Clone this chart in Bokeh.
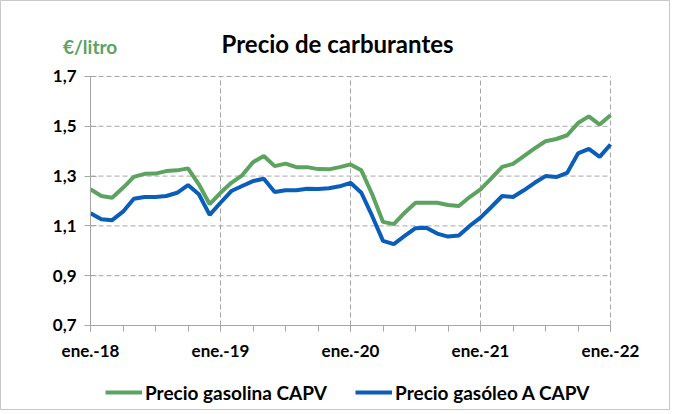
from bokeh.plotting import figure
from bokeh.models import (ColumnDataSource, FixedTicker, CustomJSTickFormatter, Legend,
                          LegendItem, Label)
from bokeh.embed import file_html
from bokeh.resources import INLINE

months = list(range(49))
year_ticks = [0, 12, 24, 36, 48]
year_labels = ["ene.-18", "ene.-19", "ene.-20", "ene.-21", "ene.-22"]
y_ticks = [0.7, 0.9, 1.1, 1.3, 1.5, 1.7]

gasolina = [1.247, 1.220, 1.213, 1.253, 1.297, 1.309, 1.310, 1.320, 1.323, 1.331,
            1.267, 1.187, 1.233, 1.273, 1.303, 1.356, 1.381, 1.340, 1.350, 1.336,
            1.336, 1.328, 1.327, 1.336, 1.347, 1.323, 1.227, 1.116, 1.107, 1.153,
            1.193, 1.193, 1.193, 1.184, 1.180, 1.216, 1.247, 1.291, 1.337, 1.349,
            1.380, 1.411, 1.440, 1.449, 1.464, 1.513, 1.540, 1.507, 1.544]
gasoleo = [1.151, 1.127, 1.123, 1.157, 1.209, 1.216, 1.216, 1.220, 1.233, 1.264,
           1.227, 1.144, 1.193, 1.240, 1.260, 1.280, 1.289, 1.236, 1.243, 1.243,
           1.249, 1.248, 1.251, 1.259, 1.273, 1.233, 1.140, 1.040, 1.027, 1.060,
           1.091, 1.093, 1.069, 1.057, 1.061, 1.100, 1.133, 1.176, 1.220, 1.216,
           1.243, 1.273, 1.300, 1.296, 1.313, 1.391, 1.409, 1.377, 1.427]

GREEN = "#5BA35F"
BLUE = "#0A5DB8"
GRID = "#a6a6a6"
FONT = "Lato"

x0, x1 = year_ticks[0], year_ticks[-1]
y0, y1 = y_ticks[0], y_ticks[-1]

src = ColumnDataSource(dict(m=months, g=gasolina, d=gasoleo))
hgrid = ColumnDataSource(dict(y=y_ticks[1:], xs=[x0] * 5, xe=[x1] * 5))
vgrid = ColumnDataSource(dict(x=year_ticks[1:], ys=[y0] * 4, ye=[y1] * 4))

W, H = 670, 410
p = figure(width=W, height=H, output_backend="svg", toolbar_location=None,
           x_range=(-8.3077, 53.538), y_range=(0.3586, 2.0052),
           min_border=0)
p.outline_line_color = "#c8c8c8"
p.grid.visible = False

# grid lines from the tick arrays
p.segment(x0="xs", y0="y", x1="xe", y1="y", source=hgrid,
          line_color=GRID, line_dash="5 3", line_width=1)
p.segment(x0="x", y0="ys", x1="x", y1="ye", source=vgrid,
          line_color=GRID, line_dash="5 3", line_width=1)

r1 = p.line("m", "g", source=src, line_color=GREEN, line_width=4)
r2 = p.line("m", "d", source=src, line_color=BLUE, line_width=4)

# axes placed at the data origin
p.xaxis.fixed_location = y0
p.xaxis.bounds = (x0, x1)
p.yaxis.fixed_location = x0
p.yaxis.bounds = (y0, y1)
p.xaxis.ticker = FixedTicker(ticks=year_ticks, minor_ticks=list(range(0, 49, 3)))
p.xaxis.major_label_overrides = {t: l for t, l in zip(year_ticks, year_labels)}
p.yaxis.ticker = FixedTicker(ticks=y_ticks, minor_ticks=[])
p.yaxis.formatter = CustomJSTickFormatter(code="return tick.toFixed(1).replace('.', ',');")

for ax in (p.xaxis[0], p.yaxis[0]):
    ax.axis_line_color = GRID
    ax.major_tick_line_color = GRID
    ax.minor_tick_line_color = GRID
    ax.major_label_text_font = FONT
    ax.major_label_text_font_style = "bold"
    ax.major_label_text_font_size = "17px"
    ax.major_label_text_color = "#000000"

p.xaxis.major_tick_in = 0
p.xaxis.major_tick_out = 6
p.xaxis.minor_tick_in = 0
p.xaxis.minor_tick_out = 6
p.xaxis.major_label_standoff = 9
p.yaxis.major_tick_in = 6
p.yaxis.major_tick_out = 6
p.yaxis.major_label_standoff = 8

# title and unit
p.add_layout(Label(x=12.1, y=1.8313, text="Precio de carburantes", text_font=FONT,
                   text_font_style="bold", text_font_size="24px", text_align="left",
                   text_baseline="alphabetic", text_color="#000000"))
p.add_layout(Label(x=-2.54, y=1.8185, text="€/litro", text_font=FONT,
                   text_font_style="bold", text_font_size="19px", text_align="left",
                   text_baseline="alphabetic", text_color=GREEN))

legend = Legend(items=[LegendItem(label="Precio gasolina CAPV", renderers=[r1]),
                       LegendItem(label="Precio gasóleo A CAPV", renderers=[r2])],
                orientation="horizontal", location=(105, 6),
                glyph_width=37, glyph_height=24, label_height=24, label_standoff=3,
                spacing=28, padding=0, margin=0, border_line_color=None,
                background_fill_alpha=0,
                label_text_font=FONT, label_text_font_style="bold",
                label_text_font_size="19px", label_text_color="#000000")
p.add_layout(legend, "center")

open("out.html", "w").write(file_html(p, INLINE))
